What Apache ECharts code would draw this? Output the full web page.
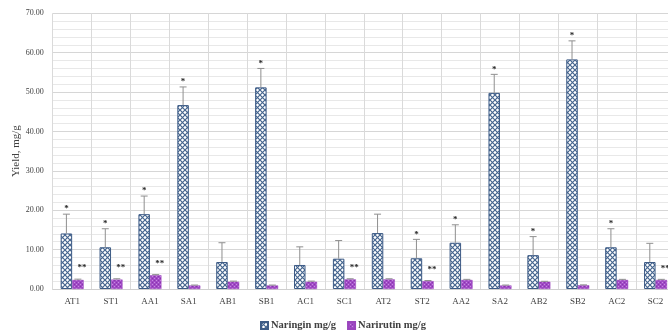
<!DOCTYPE html>
<html>
<head>
<meta charset="utf-8">
<script src="https://cdn.jsdelivr.net/npm/echarts@6/dist/echarts.min.js"></script>
<style>
  html, body { margin: 0; padding: 0; background: #ffffff; }
  #chart { width: 668px; height: 332px; }
</style>
</head>
<body>
<div id="chart"></div>
<script>
// Extract samples and their flavanone yields (mg/g), with standard deviations
const categories = ['AT1', 'ST1', 'AA1', 'SA1', 'AB1', 'SB1', 'AC1', 'SC1',
                    'AT2', 'ST2', 'AA2', 'SA2', 'AB2', 'SB2', 'AC2', 'SC2'];
const naringin      = [14.1, 10.6, 19.0, 46.7, 6.85, 51.2, 6.1, 7.7, 14.2, 7.8, 11.75, 49.8, 8.6, 58.3, 10.6, 6.85];
const naringinErr   = [4.9, 4.7, 4.6, 4.6, 4.9, 4.8, 4.6, 4.6, 4.8, 4.8, 4.55, 4.7, 4.7, 4.7, 4.7, 4.75];
const narirutin     = [2.3, 2.4, 3.5, 0.9, 1.85, 0.9, 1.85, 2.45, 2.45, 2.0, 2.3, 0.9, 1.85, 0.95, 2.3, 2.3];
const narirutinErr  = [0.2, 0.2, 0.15, 0.1, 0.15, 0.1, 0.15, 0.15, 0.15, 0.15, 0.15, 0.1, 0.1, 0.1, 0.15, 0.15];
// significance markers
const naringinMarks  = ['*', '*', '*', '*', '', '*', '', '', '', '*', '*', '*', '*', '*', '*', ''];
const narirutinMarks = ['**', '**', '**', '', '', '', '', '**', '', '**', '', '', '', '', '', '**'];
const yMin = 0, yMax = 70, yStep = 10;

const FONT = '"Liberation Serif", "DejaVu Serif", serif';
const BAR_W = 11.5;

// hatch fills
function crossHatch() {
  const s = 5;
  const c = document.createElement('canvas');
  c.width = s; c.height = s;
  const g = c.getContext('2d');
  g.fillStyle = '#ffffff';
  g.fillRect(0, 0, s, s);
  g.strokeStyle = '#45658f';
  g.lineWidth = 1.2;
  g.beginPath();
  g.moveTo(0, 0); g.lineTo(s, s);
  g.moveTo(s, 0); g.lineTo(0, s);
  g.stroke();
  return c;
}
function dotFill() {
  const c = document.createElement('canvas');
  c.width = 4; c.height = 4;
  const g = c.getContext('2d');
  g.fillStyle = '#a04bc6';
  g.fillRect(0, 0, 4, 4);
  g.fillStyle = '#c98ae2';
  g.fillRect(0, 0, 1, 1);
  g.fillRect(2, 2, 1, 1);
  g.fillStyle = '#8a34ac';
  g.fillRect(2, 0, 1, 1);
  g.fillRect(0, 2, 1, 1);
  return c;
}

// error bar (plus direction) with a marker above it
function errorBars(offset, marks, markDx, markDy, markSize) {
  return function (params, api) {
    const i = api.value(0);
    const base = api.coord([i, api.value(1)]);
    const top = api.coord([i, api.value(1) + api.value(2)]);
    const x = base[0] + offset;
    const children = [
      { type: 'line', shape: { x1: x, y1: base[1], x2: x, y2: top[1] },
        style: { stroke: '#8f8f8f', lineWidth: 1 } },
      { type: 'line', shape: { x1: x - 3.5, y1: top[1], x2: x + 3.5, y2: top[1] },
        style: { stroke: '#8f8f8f', lineWidth: 1 } }
    ];
    const m = marks[params.dataIndex];
    if (m) {
      children.push({
        type: 'text', x: x + markDx, y: top[1] + markDy,
        style: { text: m, fill: '#262626', font: 'bold ' + markSize + 'px ' + FONT,
                 align: 'center', verticalAlign: 'middle' }
      });
    }
    return { type: 'group', children: children };
  };
}

const chart = echarts.init(document.getElementById('chart'), null, { renderer: 'canvas' });
const hatch = { image: crossHatch(), repeat: 'repeat' };
const dots = { image: dotFill(), repeat: 'repeat' };

chart.setOption({
  animation: false,
  backgroundColor: '#ffffff',
  grid: { left: 52.7, right: -7, top: 13.3, bottom: 43, containLabel: false, outerBoundsMode: 'none' },
  legend: {
    left: 255, top: 315,
    itemWidth: 7, itemHeight: 7, itemGap: 11,
    icon: 'rect',
    textStyle: { fontFamily: FONT, fontSize: 10.5, fontWeight: 'bold', color: '#404040', padding: [0, 0, 0, -2] },
    data: ['Naringin mg/g', 'Narirutin mg/g']
  },
  xAxis: {
    type: 'category',
    data: categories,
    axisTick: { show: false },
    axisLine: { lineStyle: { color: '#cfcfcf', width: 1 } },
    splitLine: { show: true, interval: 0, lineStyle: { color: '#dadada', width: 1 } },
    axisLabel: { interval: 0, margin: 8, fontFamily: FONT, fontSize: 9, color: '#404040' }
  },
  yAxis: {
    type: 'value',
    min: yMin, max: yMax, interval: yStep,
    name: 'Yield, mg/g',
    nameLocation: 'middle', nameRotate: 90, nameGap: 31,
    nameMoveOverlap: false,
    nameTextStyle: { fontFamily: FONT, fontSize: 11, color: '#404040' },
    axisLine: { show: false },
    axisTick: { show: false },
    axisLabel: { margin: 9, fontFamily: FONT, fontSize: 8, color: '#404040',
                 formatter: v => v.toFixed(2) },
    splitLine: { lineStyle: { color: '#d6d6d6', width: 1 } },
    minorTick: { show: false, splitNumber: 5 },
    minorSplitLine: { show: true, lineStyle: { color: '#e8e8e8', width: 1 } }
  },
  series: [
    {
      name: 'Naringin mg/g', type: 'bar', data: naringin,
      barWidth: BAR_W, barGap: '0%',
      itemStyle: { color: hatch, borderColor: '#3d5b86', borderWidth: 1 }
    },
    {
      name: 'Narirutin mg/g', type: 'bar', data: narirutin,
      barWidth: BAR_W, barGap: '0%',
      itemStyle: { color: dots, borderColor: '#9a44bd', borderWidth: 0.5 }
    },
    {
      type: 'custom', z: 5,
      renderItem: errorBars(-BAR_W / 2, naringinMarks, 0, -5, 9),
      data: categories.map((c, i) => [i, naringin[i], naringinErr[i]]),
      encode: { x: 0, y: 1 }
    },
    {
      type: 'custom', z: 5,
      renderItem: errorBars(BAR_W / 2, narirutinMarks, 4, -11, 9),
      data: categories.map((c, i) => [i, narirutin[i], narirutinErr[i]]),
      encode: { x: 0, y: 1 }
    }
  ]
});
</script>
</body>
</html>
